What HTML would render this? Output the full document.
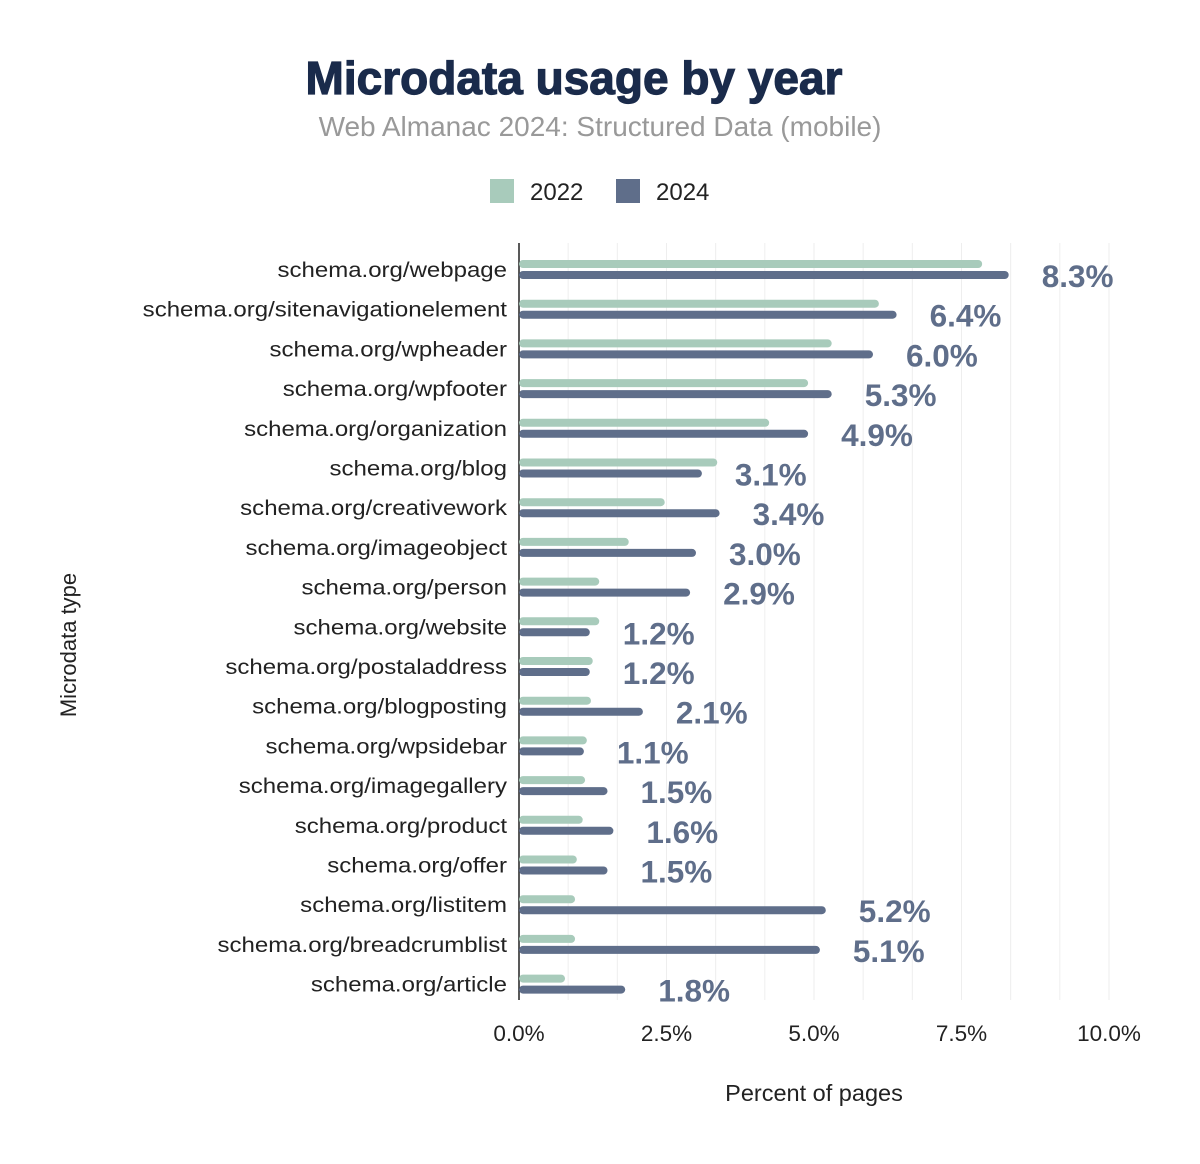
<!DOCTYPE html>
<html><head><meta charset="utf-8"><style>
body{margin:0;background:#fff;}
svg{display:block;font-family:"Liberation Sans",Arial,sans-serif;}
</style></head><body>
<svg id="c" width="1200" height="1164" viewBox="0 0 1200 1164" xmlns="http://www.w3.org/2000/svg">
<text x="574" y="94" text-anchor="middle" font-size="46" font-weight="bold" fill="#1a2b4b" stroke="#1a2b4b" stroke-width="1.2">Microdata usage by year</text>
<text x="600" y="136" text-anchor="middle" font-size="28" fill="#999">Web Almanac 2024: Structured Data (mobile)</text>
<rect x="490" y="179" width="24" height="24" fill="#a8cbbb"/>
<text x="530" y="200" font-size="24" fill="#222">2022</text>
<rect x="616" y="179" width="24" height="24" fill="#5f6e8a"/>
<text x="656" y="200" font-size="24" fill="#222">2024</text>
<text transform="translate(76,645) rotate(-90)" text-anchor="middle" font-size="22" fill="#222">Microdata type</text>
<text x="814" y="1101" text-anchor="middle" font-size="23.5" fill="#222">Percent of pages</text>
<g id="g"></g>
</svg>
<script>
var names=["webpage","sitenavigationelement","wpheader","wpfooter","organization","blog","creativework","imageobject","person","website","postaladdress","blogposting","wpsidebar","imagegallery","product","offer","listitem","breadcrumblist","article"];
var a=[7.85,6.1,5.3,4.9,4.24,3.36,2.47,1.86,1.36,1.36,1.25,1.22,1.15,1.12,1.08,0.98,0.95,0.95,0.78];
var b=[8.3,6.4,6.0,5.3,4.9,3.1,3.4,3.0,2.9,1.2,1.2,2.1,1.1,1.5,1.6,1.5,5.2,5.1,1.8];
var x0=519,k=59,s="";
for(var i=1;i<=12;i++){var gx=x0+i*k*10/12;s+='<line x1="'+gx+'" y1="243" x2="'+gx+'" y2="1000" stroke="#eee" stroke-width="1"/>';}
s+='<line x1="519" y1="243" x2="519" y2="1000" stroke="#222" stroke-width="1.5"/>';
var t=["0.0%","2.5%","5.0%","7.5%","10.0%"];
for(var i=0;i<5;i++)s+='<text x="'+(x0+i*2.5*k)+'" y="1041" text-anchor="middle" font-size="22.5" fill="#222">'+t[i]+'</text>';
for(var i=0;i<19;i++){var yg=264+39.7*i,yd=275+39.7*i;
s+='<text x="507" y="'+(yg+13)+'" text-anchor="end" font-size="21.5" textLength="'+(("schema.org/"+names[i]).length*0)+'" fill="#222" class="yl">schema.org/'+names[i]+'</text>';
s+='<line x1="523" y1="'+yg+'" x2="'+(x0+a[i]*k-4)+'" y2="'+yg+'" stroke="#a8cbbb" stroke-width="8" stroke-linecap="round"/>';
var e=x0+b[i]*k;
s+='<text x="'+(e+33)+'" y="'+(yd+12)+'" font-size="31.5" font-weight="bold" fill="#5f6e8a">'+b[i].toFixed(1)+'%</text>';
s+='<line x1="523" y1="'+yd+'" x2="'+(e-4)+'" y2="'+yd+'" stroke="#5f6e8a" stroke-width="8" stroke-linecap="round"/>';}
s=s.replace(/ textLength="0"/g,'');
document.getElementById("g").innerHTML=s;
var yl=document.querySelectorAll('.yl');
for(var i=0;i<yl.length;i++){var w=yl[i].getComputedTextLength();yl[i].setAttribute('textLength',(w*364/326).toFixed(1));yl[i].setAttribute('lengthAdjust','spacingAndGlyphs');}
</script>
</body></html>
